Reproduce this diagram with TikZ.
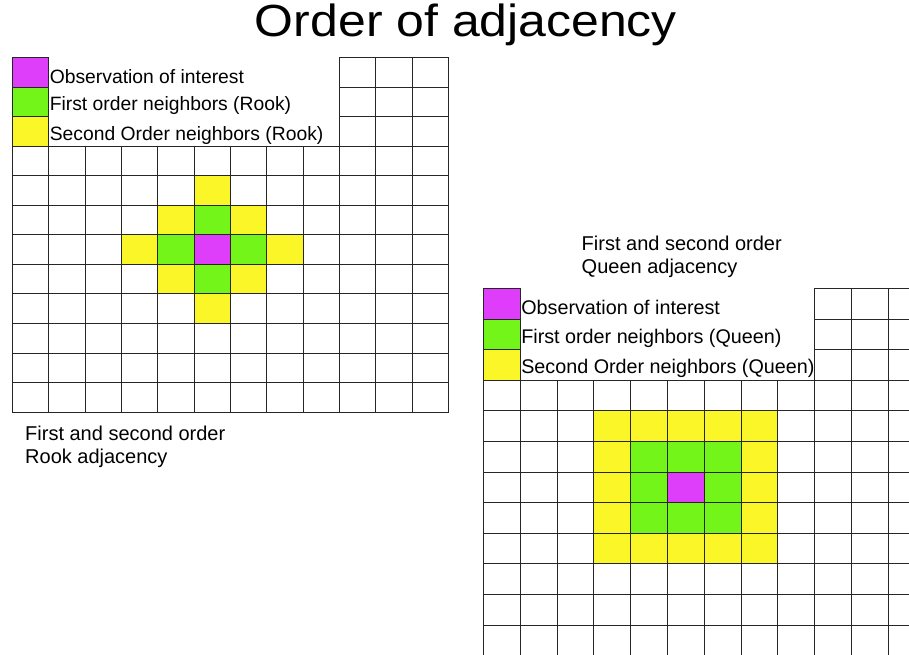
\documentclass[tikz,border=0pt]{standalone}
\usepackage{fontspec}
\setmainfont{Liberation Sans}
\definecolor{obscol}{RGB}{222,61,250}
\definecolor{firstcol}{RGB}{115,245,25}
\definecolor{secondcol}{RGB}{250,246,40}
\tikzset{
  cellbox/.style={draw=black!85, line width=0.7pt},
  obsbox/.style={cellbox, fill=obscol},
  firstbox/.style={cellbox, fill=firstcol},
  secondbox/.style={cellbox, fill=secondcol},
  legtext/.style={anchor=west, inner sep=1pt},
  caption/.style={anchor=north west, align=left, inner sep=0pt, font=\fontsize{20}{22.5}\selectfont}
}

\begin{document}
\begin{tikzpicture}[x=1pt,y=-1pt]
		\useasboundingbox (0,0) rectangle (909,655);
		\clip (0,0) rectangle (909,655);
		\node [anchor=base, xscale=1.11, font=\fontsize{45}{48}\selectfont] (title) at (466,37) {Order of adjacency};
		% rook grid
		\begin{scope}[shift={(12.3,57.3)}, x=36.33pt, y=-29.56pt]
			\foreach \r in {3,...,11}
				\foreach \c in {0,...,11}
					\draw [cellbox] (\c,\r) rectangle ++(1,1);
			\foreach \r in {0,1,2}
				\foreach \c in {9,10,11}
					\draw [cellbox] (\c,\r) rectangle ++(1,1);
			\draw [obsbox] (0,0) rectangle ++(1,1);
			\draw [firstbox] (0,1) rectangle ++(1,1);
			\draw [secondbox] (0,2) rectangle ++(1,1);
			\node [legtext, font=\fontsize{19.3}{22}\selectfont] (rookobs) at (1,0.64) {Observation of interest};
			\node [legtext, font=\fontsize{19.3}{22}\selectfont] (rookfirst) at (1,1.64) {First order neighbors (Rook)};
			\node [legtext, font=\fontsize{19.3}{22}\selectfont] (rooksecond) at (1,2.64) {Second Order neighbors (Rook)};
			\foreach \c/\r in {5/4,5/8,3/6,7/6,4/5,6/5,4/7,6/7}
				\draw [secondbox] (\c,\r) rectangle ++(1,1);
			\foreach \c/\r in {5/5,5/7,4/6,6/6}
				\draw [firstbox] (\c,\r) rectangle ++(1,1);
			\draw [obsbox] (5,6) rectangle ++(1,1);
		\end{scope}
		\node [caption] (rookcap) at (25,426) {First and second order\\Rook adjacency};
		% queen grid
		\node [caption] (queencap) at (581.5,236) {First and second order\\Queen adjacency};
		\begin{scope}[shift={(483.3,288.3)}, x=36.8pt, y=-30.6pt]
			\foreach \r in {3,...,11}
				\foreach \c in {0,...,11}
					\draw [cellbox] (\c,\r) rectangle ++(1,1);
			\foreach \r in {0,1,2}
				\foreach \c in {9,10,11}
					\draw [cellbox] (\c,\r) rectangle ++(1,1);
			\draw [obsbox] (0,0) rectangle ++(1,1);
			\draw [firstbox] (0,1) rectangle ++(1,1);
			\draw [secondbox] (0,2) rectangle ++(1,1);
			\node [legtext, font=\fontsize{19.75}{22}\selectfont] (queenobs) at (1,0.63) {Observation of interest};
			\node [legtext, font=\fontsize{19.75}{22}\selectfont] (queenfirst) at (1,1.63) {First order neighbors (Queen)};
			\node [legtext, font=\fontsize{19.75}{22}\selectfont] (queensecond) at (1,2.63) {Second Order neighbors (Queen)};
			\foreach \c in {3,...,7}
				\foreach \r in {4,...,8}
					\draw [secondbox] (\c,\r) rectangle ++(1,1);
			\foreach \c in {4,5,6}
				\foreach \r in {5,6,7}
					\draw [firstbox] (\c,\r) rectangle ++(1,1);
			\draw [obsbox] (5,6) rectangle ++(1,1);
		\end{scope}
\end{tikzpicture}
\end{document}
